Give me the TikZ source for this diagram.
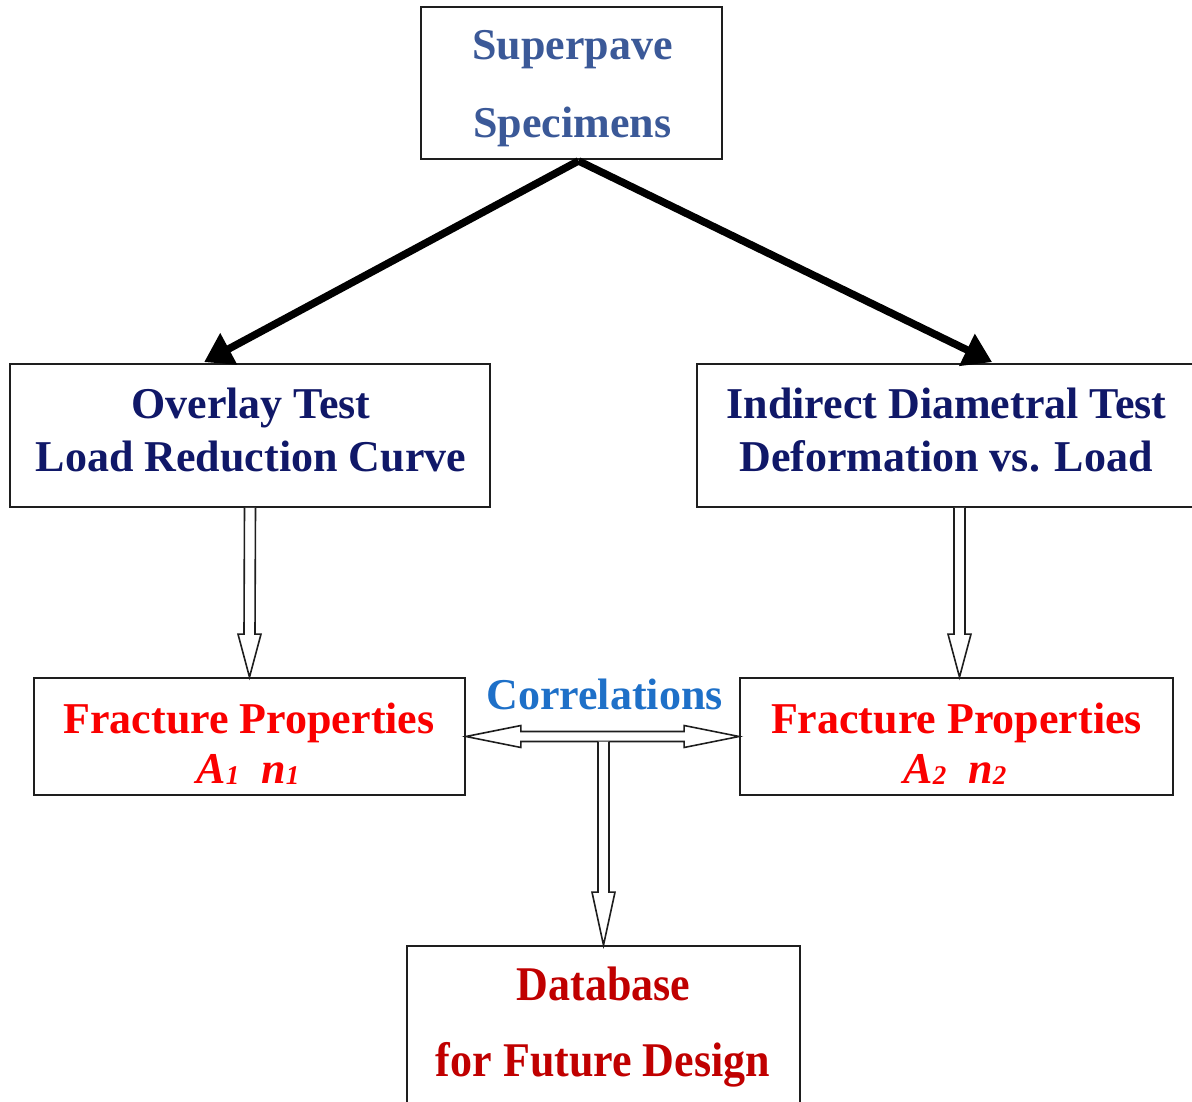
\documentclass[tikz,border=0pt]{standalone}
\usepackage{fontspec}
\setmainfont{Liberation Serif}
\usetikzlibrary{arrows.meta,calc}

\definecolor{superblue}{RGB}{59,89,152}
\definecolor{navytext}{RGB}{16,24,104}
\definecolor{propred}{RGB}{250,0,0}
\definecolor{corrblue}{RGB}{30,112,200}
\definecolor{dbred}{RGB}{192,0,0}
\definecolor{edge}{RGB}{30,30,30}

\newcommand{\bigfont}{\fontsize{44}{50}\selectfont\bfseries}
\newcommand{\subdigit}[1]{\raisebox{-1pt}{\fontsize{27}{27}\selectfont #1}}

\begin{document}
\begin{tikzpicture}[x=1pt,y=-1pt,
  box/.style={draw=edge,line width=1.8pt,inner sep=0pt,fill=none},
  label/.style={anchor=base,inner sep=0pt,font=\bigfont},
  thickarrow/.style={line width=7.5pt,-{Triangle[length=28pt,width=34pt]}},
  hollow/.style={draw=edge,line width=1.6pt,fill=white,line join=miter},
  % hollow arrow pointing down: open tail, head of length #1
  hollowdown/.style={to path={
    ($(\tikztostart)+(-5.5,0)$) -- ($(\tikztotarget)+(-5.5,-#1)$)
    -- ($(\tikztotarget)+(-11.5,-#1)$) -- (\tikztotarget)
    -- ($(\tikztotarget)+(11.5,-#1)$) -- ($(\tikztotarget)+(5.5,-#1)$)
    -- ($(\tikztostart)+(5.5,0)$)}},
  hollowdown/.default=43,
  % hollow arrow with a head at both ends, horizontal
  hollowboth/.style={to path={
    -- ($(\tikztostart)+(55,-11)$) -- ($(\tikztostart)+(55,-5)$)
    -- ($(\tikztotarget)+(-55,-5)$) -- ($(\tikztotarget)+(-55,-11)$)
    -- (\tikztotarget)
    -- ($(\tikztotarget)+(-55,11)$) -- ($(\tikztotarget)+(-55,5)$)
    -- ($(\tikztostart)+(55,5)$) -- ($(\tikztostart)+(55,11)$)
    -- cycle}}
]
\useasboundingbox[fill=white] (0,0) rectangle (1192,1102);

% boxes
\node[box,minimum width=301pt,minimum height=152pt] (T)  at (571.5,83) {};
\node[box,minimum width=480pt,minimum height=143pt] (L)  at (250,435.5) {};
\node[box,minimum width=505pt,minimum height=143pt] (R)  at (949.5,435.5) {};
\node[box,minimum width=431pt,minimum height=117pt] (LF) at (249.5,736.5) {};
\node[box,minimum width=433pt,minimum height=117pt] (RF) at (956.5,736.5) {};
\node[box,minimum width=393pt,minimum height=170pt] (DB) at (603.5,1031) {};

% texts
\node[label,text=superblue] (t1) at (572.5,60) {Superpave};
\node[label,text=superblue] (t2) at (572.5,138) {Specimens};
\node[label,text=navytext] (l1) at (251,418) {Overlay Test};
\node[label,text=navytext] (l2) at (251,471) {Load Reduction Curve};
\node[label,text=navytext] (r1) at (946.5,418) {Indirect Diametral Test};
\node[label,text=navytext] (r2) at (946,471) {Deformation vs. Load};
\node[label,text=propred] (lf1) at (249,733) {Fracture Properties};
\node[label,text=propred] (lf2) at (248,783) {\itshape A\subdigit{1}\hspace{22pt}n\subdigit{1}};
\node[label,text=propred] (rf1) at (956.5,733) {Fracture Properties};
\node[label,text=propred] (rf2) at (955,783) {\itshape A\subdigit{2}\hspace{22pt}n\subdigit{2}};
\node[label,text=corrblue] (corr) at (604.5,709) {Correlations};
\node[label,text=dbred] (d1) at (603.5,1000) {\scalebox{1}[1.1]{Database}};
\node[label,text=dbred] (d2) at (603,1076) {\scalebox{1}[1.1]{for Future Design}};

% thick arrows from the specimens
\draw[thickarrow] ($(T.south)+(7,1)$) -- ($(L.north west)+(195,-1)$);
\draw[thickarrow] ($(T.south)+(7,1)$) -- ($(R.north west)+(296,-1)$);

% hollow arrows
\draw[hollow] (L.south) to[hollowdown] (LF.north);
\coordinate (rtail) at (R.south -| RF.north);
\draw[hollow] ($(rtail)+(3,0)$) to[hollowdown] ($(RF.north)+(3,0)$);
\draw[hollow] (LF.east) to[hollowboth] (RF.west);
\coordinate (J) at ($(DB.north |- LF.east)+(0,5)$);
\draw[hollow] (J) to[hollowdown=53] (DB.north);
\end{tikzpicture}
\end{document}
